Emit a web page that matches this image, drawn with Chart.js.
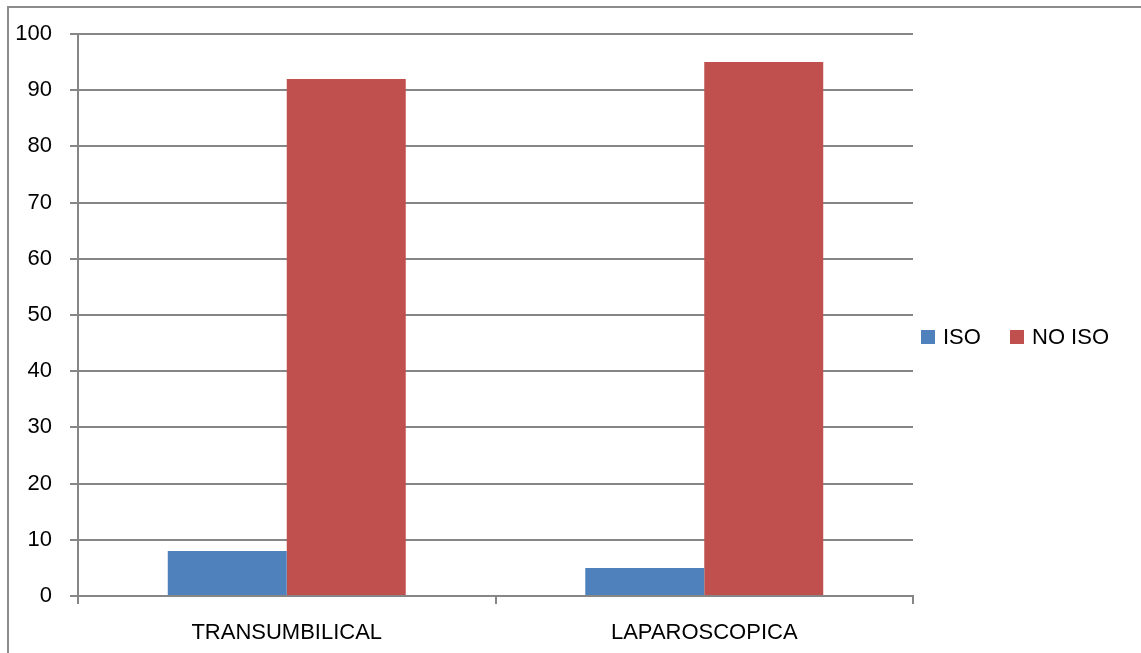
<!DOCTYPE html>
<html>
<head>
<meta charset="utf-8">
<script src="https://cdn.jsdelivr.net/npm/chart.js@4"></script>
<style>
html,body{margin:0;padding:0;background:#fff;}
#wrap{width:1141px;height:653px;position:relative;}
</style>
</head>
<body>
<div id="wrap"><canvas id="c" width="1141" height="653"></canvas></div>
<script>
const categories = ["TRANSUMBILICAL", "LAPAROSCOPICA"];
const isoValues = [8, 5];
const noIsoValues = [92, 95];
const seriesNames = ["ISO", "NO ISO"];
const yTicks = [0, 10, 20, 30, 40, 50, 60, 70, 80, 90, 100];

const FONT = "'Liberation Sans', Arial, sans-serif";
const GRID = "#868686";

const framePlugin = {
  id: "frame",
  beforeDraw(chart) {
    const ctx = chart.ctx;
    ctx.save();
    ctx.fillStyle = "#fff";
    ctx.fillRect(0, 0, chart.width, chart.height);
    ctx.strokeStyle = "#8c8c8c";
    ctx.lineWidth = 2;
    ctx.beginPath();
    ctx.moveTo(8, chart.height + 5);
    ctx.lineTo(8, 7);
    ctx.lineTo(chart.width + 5, 7);
    ctx.stroke();
    ctx.restore();
  }
};

const legendPlugin = {
  id: "customLegend",
  afterDraw(chart) {
    const ctx = chart.ctx;
    ctx.save();
    ctx.font = "22px " + FONT;
    ctx.textBaseline = "middle";
    ctx.textAlign = "left";
    let x = 921;
    const y = 337;
    chart.data.datasets.forEach((ds, i) => {
      ctx.fillStyle = ds.backgroundColor;
      ctx.fillRect(x, y - 7, 14, 14);
      ctx.fillStyle = "#000";
      ctx.fillText(ds.label, x + 22, y + 1);
      x += 89;
    });
    ctx.restore();
  }
};

new Chart(document.getElementById("c"), {
  type: "bar",
  data: {
    labels: categories,
    datasets: [
      { label: seriesNames[0], data: isoValues, backgroundColor: "#4F81BD" },
      { label: seriesNames[1], data: noIsoValues, backgroundColor: "#C0504D" }
    ]
  },
  options: {
    responsive: false,
    animation: false,
    devicePixelRatio: 1,
    layout: { padding: { left: 0, right: 228, top: 34, bottom: 0 } },
    plugins: { legend: { display: false }, tooltip: { enabled: false } },
    datasets: { bar: { categoryPercentage: 0.57, barPercentage: 1.0 } },
    scales: {
      x: {
        grid: { drawOnChartArea: false, drawTicks: true, tickLength: 8, color: GRID, lineWidth: 2 },
        border: { display: true, color: GRID, width: 2 },
        ticks: { color: "#000", font: { family: FONT, size: 22 }, padding: 16, maxRotation: 0 },
        afterFit(scale) { scale.height = 57; }
      },
      y: {
        min: 0, max: 100,
        afterBuildTicks(scale) { scale.ticks = yTicks.map(v => ({ value: v })); },
        grid: { color: GRID, lineWidth: 2, tickLength: 8 },
        border: { display: true, color: GRID, width: 2 },
        ticks: { color: "#000", font: { family: FONT, size: 22 }, padding: 18 },
        afterFit(scale) { scale.width = 78; }
      }
    }
  },
  plugins: [framePlugin, legendPlugin]
});
</script>
</body>
</html>
